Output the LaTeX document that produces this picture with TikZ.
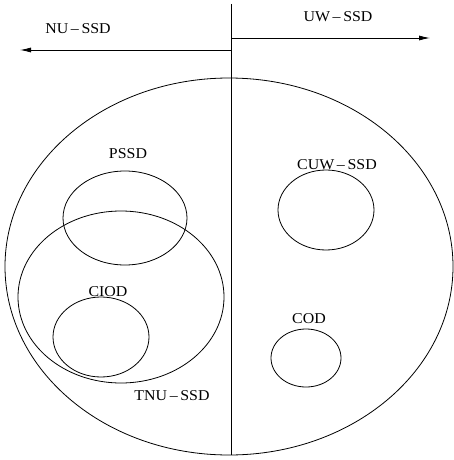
\documentclass[tikz,border=0pt]{standalone}
\usepackage{fontspec}
\setmainfont{Liberation Serif}
\usetikzlibrary{arrows.meta}
\begin{document}
\begin{tikzpicture}[x=1pt,y=-1pt,
  lbl/.style={font=\fontsize{15}{17}\selectfont, inner sep=0pt, xscale=1.06},
  set/.style={draw, line width=0.8pt},
  arr/.style={draw, line width=0.8pt, -{Latex[length=11pt,width=5pt]}}]
\useasboundingbox (0,0) rectangle (454,460);
% universe
\draw[set] (229,266.5) ellipse [x radius=224, y radius=188.5];
% divider
\coordinate (top) at (231,4);
\coordinate (bot) at (231,455);
\draw[line width=0.8pt] (top) -- (bot);
% arrows
\coordinate (nuS) at (231,50);
\coordinate (nuE) at (20,50);
\coordinate (uwS) at (231,38);
\coordinate (uwE) at (430,38);
\draw[arr] (nuS) -- (nuE);
\draw[arr] (uwS) -- (uwE);
\node[lbl] (nulbl) at (78,29) {NU\,--\,SSD};
\node[lbl] (uwlbl) at (338,17) {UW\,--\,SSD};
% inner sets
\draw[set] (125,218) ellipse [x radius=62, y radius=47];
\node[lbl] (pssd) at (128,154) {PSSD};
\draw[set] (121,297) ellipse [x radius=103, y radius=86];
\node[lbl] (tnu) at (172,396) {TNU\,--\,SSD};
\draw[set] (101,337) ellipse [x radius=48, y radius=40];
\node[lbl] (ciod) at (108,292) {CIOD};
\draw[set] (326,210) ellipse [x radius=48, y radius=40];
\node[lbl] (cuw) at (337,165) {CUW\,--\,SSD};
\draw[set] (306,358) ellipse [x radius=35, y radius=29];
\node[lbl] (cod) at (309,319) {COD};
\end{tikzpicture}
\end{document}
